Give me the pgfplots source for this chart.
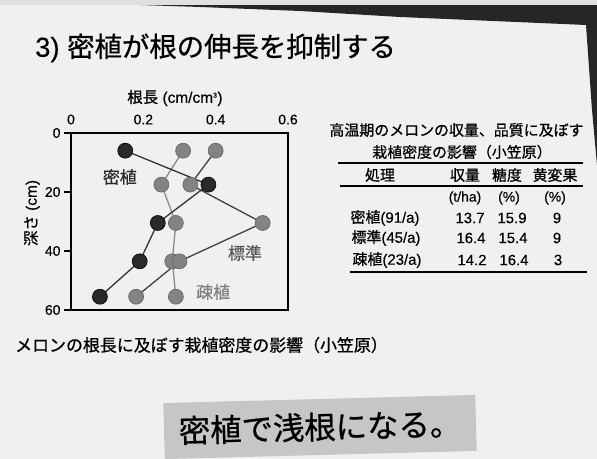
\documentclass[border=0pt]{standalone}
\usepackage{pgfplots}
\pgfplotsset{compat=1.18}
\usepackage{fontspec}
\setmainfont{Liberation Sans}[FakeBold=0.3]
\newfontfamily\cjk{Noto Sans CJK JP}[FakeBold=0.7]

\definecolor{slide}{HTML}{EFF0F2}
\definecolor{darkpt}{HTML}{2A2A2A}
\definecolor{graypt}{HTML}{838383}
\definecolor{grayline}{HTML}{8A8A8A}
\definecolor{boxgray}{HTML}{C6C6C6}

\newcommand{\fs}[1]{\fontsize{#1}{#1}\selectfont}

\begin{document}
\begin{tikzpicture}[x=1bp,y=1bp]
  % slide background (photo of a projected slide)
  \useasboundingbox (0,0) rectangle (597,459);
  \fill[slide] (0,0) rectangle (597,459);
  \fill[black!85] (140,454) -- (200,452) -- (300,448) -- (400,442) -- (586,434)
       -- (592,349) -- (597,294) -- (597,456) -- (140,456) -- cycle;
  \fill[black!12] (0,454) rectangle (597,459);

  % slide title
  \node[anchor=west, inner sep=0] at (35,411) {\fs{27.5}3) {\cjk 密植が根の伸長を抑制する}};

  \begin{axis}[
      at={(71bp,149bp)}, anchor=south west,
      scale only axis, width=217bp, height=177bp,
      xmin=0, xmax=0.6, ymin=0, ymax=60,
      y dir=reverse,
      xtick={0,0.2,0.4,0.6}, xticklabels={0,0.2,0.4,0.6},
      ytick={0,20,40,60},
      xticklabel pos=top, ytick pos=left,
      xtick style={draw=none},
      tick align=outside, major tick length=7bp,
      ytick style={line width=1.4pt, black},
      axis line style={line width=1.8pt, black},
      /pgf/number format/assume math mode=true,
      ticklabel style={font=\fs{14}},
      xticklabel style={yshift=-2bp},
      xlabel={{\cjk 根長} (cm/cm\textsuperscript{\fs{7}3})},
      xlabel style={at={(axis description cs:0.479,1.198)}, anchor=center, font=\fs{15.5}},
      ylabel={{\cjk 深さ} (cm)},
      ylabel style={at={(axis description cs:-0.18,0.548)}, anchor=center, font=\fs{15.5}},
      clip=false,
    ]
    % sparse planting (疎植)
    \addplot[grayline, line width=1.3pt, mark=*, mark size=7.5bp,
             mark options={fill=graypt, draw=graypt!75!black, line width=0.6pt}]
      coordinates {(0.31,6) (0.25,17.5) (0.29,30.5) (0.28,43.5) (0.29,55.5)};
    % standard (標準)
    \addplot[black!75, line width=1.3pt, mark=*, mark size=7.5bp,
             mark options={fill=graypt, draw=graypt!75!black, line width=0.6pt}]
      coordinates {(0.40,6) (0.33,17.5) (0.53,30.5) (0.30,43.5) (0.18,55.5)};
    % dense planting (密植)
    \addplot[black!80, line width=1.3pt, mark=*, mark size=7.5bp,
             mark options={fill=darkpt, draw=black, line width=0.6pt}]
      coordinates {(0.15,6) (0.38,17.5) (0.24,30.5) (0.19,43.5) (0.08,55.5)};

    \node[font=\fs{17}\cjk, text=darkpt] at (axis cs:0.135,14.9) {密植};
    \node[font=\fs{17}\cjk, text=black!65] at (axis cs:0.481,40.7) {標準};
    \node[font=\fs{17}\cjk, text=black!50] at (axis cs:0.393,53.9) {疎植};
  \end{axis}

  % figure caption
  \node[anchor=west, inner sep=0, font=\fs{17}\cjk] at (15,114)
    {メロンの根長に及ぼす栽植密度の影響（小笠原）};

  % table on the right
  \node[font=\fs{15}\cjk] at (456.5,329) {高温期のメロンの収量、品質に及ぼす};
  \node[font=\fs{15}\cjk] at (462,307) {栽植密度の影響（小笠原）};
  \draw[line width=1.5pt] (338,296) -- (583,296);
  \node[font=\fs{15}\cjk] at (380,284) {処理};
  \node[font=\fs{15}\cjk] at (465,284) {収量};
  \node[font=\fs{15}\cjk] at (507,284) {糖度};
  \node[font=\fs{15}\cjk] at (555,284) {黄変果};
  \draw[line width=1.2pt] (340,273) -- (583,273);
  \node[font=\fs{14}] at (465,261) {(t/ha)};
  \node[font=\fs{14}] at (509,261) {(\%)};
  \node[font=\fs{14}] at (555,261) {(\%)};
  \node[font=\fs{15}] at (385,241) {{\cjk 密植}(91/a)};
  \node[font=\fs{15}] at (386,221) {{\cjk 標準}(45/a)};
  \node[font=\fs{15}] at (387,199) {{\cjk 疎植}(23/a)};
  \node[font=\fs{15}] at (470,241) {13.7};
  \node[font=\fs{15}] at (512,241) {15.9};
  \node[font=\fs{15}] at (557,241) {9};
  \node[font=\fs{15}] at (471,221) {16.4};
  \node[font=\fs{15}] at (513,221) {15.4};
  \node[font=\fs{15}] at (557,221) {9};
  \node[font=\fs{15}] at (472,199) {14.2};
  \node[font=\fs{15}] at (514,199) {16.4};
  \node[font=\fs{15}] at (558,199) {3};
  \draw[line width=1.2pt] (350,187) -- (587,187);

  % conclusion banner
  \node[rotate=1.5, fill=boxgray, minimum width=312bp, minimum height=56bp,
        inner sep=0, font=\fs{31.5}\cjk] at (320,32) {密植で浅根になる。};
\end{tikzpicture}
\end{document}
